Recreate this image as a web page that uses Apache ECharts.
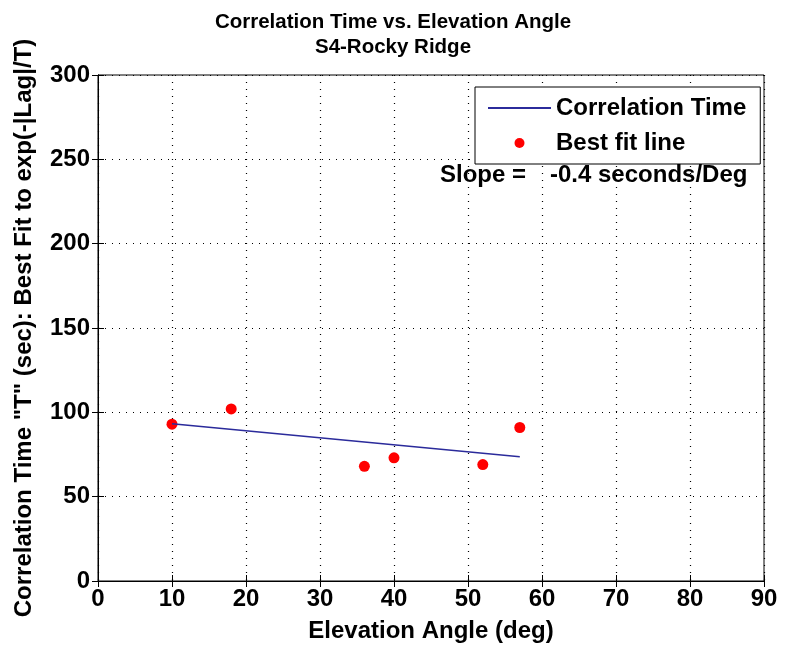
<!DOCTYPE html>
<html><head><meta charset="utf-8">
<script src="https://cdn.jsdelivr.net/npm/echarts@6/dist/echarts.min.js"></script>
<style>html,body{margin:0;padding:0;background:#fff}#c{width:786px;height:648px}</style>
</head><body><div id="c"></div>
<script>
const elevation = [10, 18, 36, 40, 52, 57];
const corrTime = [93, 102, 68, 73, 69, 91];
const fitX = [10, 57];
const fitY = [93.2, 73.6];
const xTicks = [0, 10, 20, 30, 40, 50, 60, 70, 80, 90];
const yTicks = [0, 50, 100, 150, 200, 250, 300];
const titleText = 'Correlation Time vs. Elevation Angle\nS4-Rocky Ridge';
const xName = 'Elevation Angle (deg)';
const yName = 'Correlation Time "T" (sec): Best Fit to exp(-|Lag|/T)';
const slopeLabel = 'Slope =';
const slopeValue = '-0.4 seconds/Deg';

const F = 'Liberation Sans, Arial, sans-serif';
const txt = {fontFamily: F, fontSize: 24, fontWeight: 'bold', color: '#000'};
const chart = echarts.init(document.getElementById('c'));
const gridLine = {show: true, lineStyle: {color: '#000', type: [1, 6], width: 1.2}};
const tick = {show: true, inside: true, length: 6, lineStyle: {color: '#000'}};
chart.setOption({
  animation: false,
  title: {text: titleText, left: 'center', top: 5,
    textStyle: {fontFamily: F, fontSize: 20.5, fontWeight: 'bold', color: '#000', lineHeight: 25}},
  grid: {left: 98, right: 22, top: 75, bottom: 66, show: true, borderColor: '#000', borderWidth: 1},
  legend: {
    orient: 'vertical', left: 475, top: 87,
    padding: [9, 14, 9, 12], itemGap: 11,
    borderColor: '#000', borderWidth: 1, backgroundColor: '#fff',
    itemWidth: 63, itemHeight: 10,
    textStyle: txt,
    data: [{name: 'Correlation Time', itemStyle: {opacity: 0}}, {name: 'Best fit line', icon: 'circle', itemStyle: {opacity: 1}}]
  },
  xAxis: [{
    type: 'value', min: 0, max: 90, interval: 10,
    name: xName, nameLocation: 'middle', nameGap: 38,
    nameTextStyle: txt,
    axisLine: {show: true, lineStyle: {color: '#000'}},
    axisTick: tick,
    axisLabel: Object.assign({margin: 6}, txt),
    splitLine: gridLine
  }, {
    type: 'value', min: 0, max: 90, interval: 10, position: 'top',
    axisLine: {show: true, lineStyle: {color: '#000'}},
    axisTick: tick,
    axisLabel: {show: false}, splitLine: {show: false}
  }],
  yAxis: [{
    type: 'value', min: 0, max: 300, interval: 50,
    name: yName, nameLocation: 'middle', nameGap: 62,
    nameTextStyle: txt,
    axisLine: {show: true, lineStyle: {color: '#000'}},
    axisTick: tick,
    axisLabel: Object.assign({margin: 8}, txt),
    splitLine: gridLine
  }, {
    type: 'value', min: 0, max: 300, interval: 50, position: 'right',
    axisLine: {show: true, lineStyle: {color: '#000'}},
    axisTick: tick,
    axisLabel: {show: false}, splitLine: {show: false}
  }],
  graphic: [{
    type: 'text', left: 440, top: 163,
    style: {text: slopeLabel, font: 'bold 24px ' + F, fill: '#000'}
  }, {
    type: 'text', left: 550, top: 163,
    style: {text: slopeValue, font: 'bold 24px ' + F, fill: '#000'}
  }],
  series: [{
    name: 'Correlation Time', type: 'line',
    data: fitX.map((x, i) => [x, fitY[i]]),
    showSymbol: false, symbol: 'none',
    lineStyle: {color: '#2b2b9b', width: 1.5}, itemStyle: {color: '#2b2b9b'}
  }, {
    name: 'Best fit line', type: 'scatter',
    data: elevation.map((x, i) => [x, corrTime[i]]),
    symbol: 'circle', symbolSize: 11,
    itemStyle: {color: '#ff0000', opacity: 1}
  }]
});
</script></body></html>
